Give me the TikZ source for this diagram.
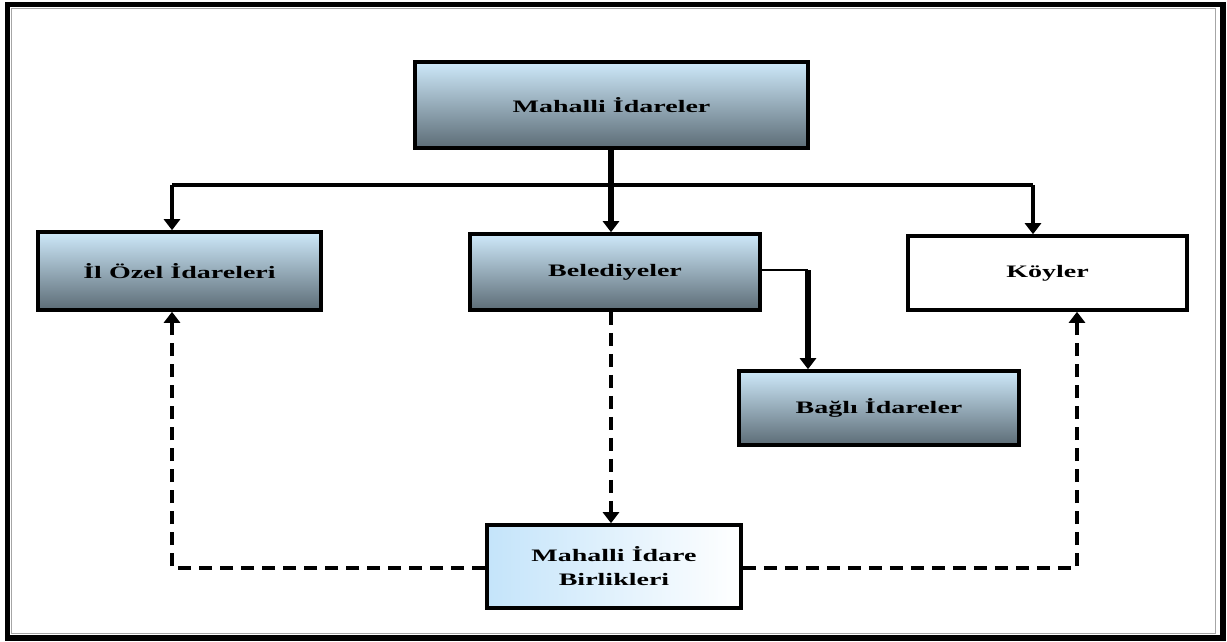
\documentclass[tikz,border=0pt]{standalone}
\usepackage{fontspec}
\setmainfont{Liberation Serif}
\usepackage{graphicx}
\usetikzlibrary{arrows.meta,shadows}
\definecolor{gtop}{RGB}{206,233,250}
\definecolor{gbot}{RGB}{92,108,118}
\definecolor{bleft}{RGB}{196,228,250}
\newcommand{\lbl}[1]{\scalebox{1.6}[1]{#1}}
\tikzset{
  box/.style={draw=black, line width=3.6pt, rectangle, inner sep=0pt,
    font=\fontsize{17.5}{24}\selectfont\bfseries, align=center,
    drop shadow={shadow xshift=2pt, shadow yshift=-2pt, fill=gray!60, opacity=0.6}},
  gbox/.style={box, top color=gtop, bottom color=gbot},
  wbox/.style={box, fill=white},
  hbox/.style={box, left color=bleft, right color=white},
  solidc/.style={line width=3.6pt},
  thinc/.style={line width=2.4pt},
  stemc/.style={line width=5.2pt},
  dashc/.style={line width=4.5pt, dash pattern=on 13pt off 8pt},
  tip/.style={-{Triangle[width=16pt,length=11pt]}},
}
\begin{document}
\begin{tikzpicture}[x=1pt,y=-1pt]
\useasboundingbox (0,0) rectangle (1227,641);
\draw[line width=5.5pt] (7.5,4.5) rectangle (1223,638);
\draw[line width=1pt, gray!70] (11,8) rectangle (1215,633);

\node[gbox, minimum width=393pt, minimum height=86pt] (top) at (611.5,105) {\lbl{Mahalli İdareler}};
\node[gbox, minimum width=283pt, minimum height=78pt] (ilozel) at (179.5,271) {\lbl{İl Özel İdareleri}};
\node[gbox, minimum width=290pt, minimum height=76pt] (bel) at (615,272) {\lbl{Belediyeler}};
\node[wbox, minimum width=279pt, minimum height=74pt] (koy) at (1047.5,273) {\lbl{Köyler}};
\node[gbox, minimum width=280pt, minimum height=74pt] (bagli) at (879,408) {\lbl{Bağlı İdareler}};
\node[hbox, minimum width=254pt, minimum height=83pt] (bir) at (614,566.5) {\lbl{Mahalli İdare}\\\lbl{Birlikleri}};

\coordinate (busL) at (172,185);
\coordinate (busM) at (611,185);
\coordinate (busR) at (1033,185);
\coordinate (bc) at (808,270);
\coordinate (dl) at (172,568);
\coordinate (dr) at (1077,568);
\coordinate (dm) at (611,400);

\draw[stemc] (top.south -| busM) -- (busM);
\draw[solidc] (busL) -- (busR);
\draw[solidc, tip] (busL) -- (busL |- ilozel.north);
\draw[stemc, tip] (busM) -- (busM |- bel.north);
\draw[solidc, tip] (busR) -- (busR |- koy.north);

\draw[thinc] (bel.east |- bc) -- (bc);
\draw[stemc, tip] (bc) -- (bc |- bagli.north);

\draw[dashc, tip] (bel.south -| dm) -- (dm |- bir.north);
\draw[dashc, tip] (bir.west |- dl) -- (dl) -- (dl |- ilozel.south);
\draw[dashc, tip] (bir.east |- dr) -- (dr) -- (dr |- koy.south);
\end{tikzpicture}
\end{document}
